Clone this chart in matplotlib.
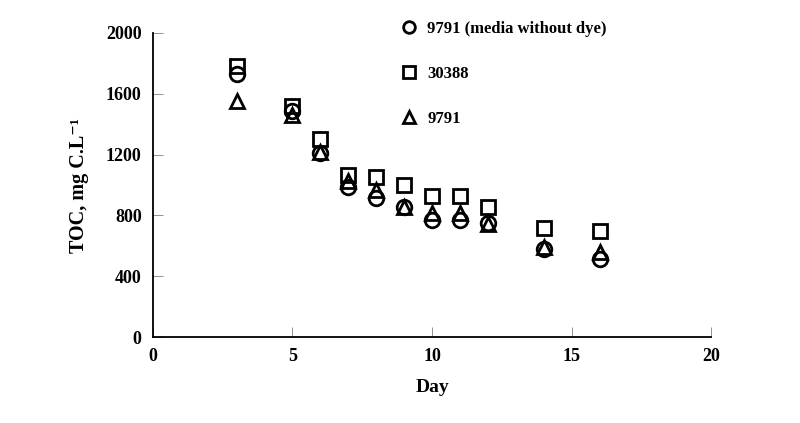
import matplotlib
matplotlib.use("Agg")
import matplotlib.pyplot as plt

plt.rcParams["font.family"] = ["Liberation Serif", "DejaVu Serif"]
plt.rcParams["font.weight"] = "bold"

# datos
dias = [3, 5, 6, 7, 8, 9, 10, 11, 12, 14, 16]
toc_sin_tinte = [1730, 1490, 1210, 985, 915, 858, 772, 772, 752, 578, 515]
toc_30388 = [1785, 1520, 1305, 1065, 1050, 998, 925, 925, 858, 715, 700]
toc_9791 = [1555, 1458, 1218, 1030, 965, 855, 815, 815, 745, 595, 560]

fig = plt.figure(figsize=(8, 4.23), dpi=100)
ax = fig.add_axes([0.191, 0.203, 0.698, 0.719])

estilo = dict(ls="none", mfc="none", mec="black", mew=2.0, ms=10.5)
ax.plot(dias, toc_sin_tinte, marker="o", label="9791 (media without dye)", **estilo)
ax.plot(dias, toc_30388, marker="s", label="30388", **estilo)
ax.plot(dias, toc_9791, marker="^", label="9791", **estilo)

ax.set_xlim(0, 20)
ax.set_ylim(0, 2000)
ax.set_xticks([0, 5, 10, 15, 20])
ax.set_yticks([0, 400, 800, 1200, 1600, 2000])
ax.tick_params(direction="in", length=7, width=0.6, color="gray",
               labelsize=13, pad=8)
for lab in ax.get_xticklabels() + ax.get_yticklabels():
    lab.set_fontweight("bold")
for s in ["top", "right"]:
    ax.spines[s].set_visible(False)
for s in ["left", "bottom"]:
    ax.spines[s].set_linewidth(1.3)

ax.set_xlabel("Day", fontsize=14, fontweight="bold", labelpad=10)
ax.set_ylabel("TOC, mg C.L\u207b\u00b9", fontsize=14.5, fontweight="bold",
              labelpad=12)

fig.legend(loc="upper left", bbox_to_anchor=(0.501, 0.951), frameon=False,
           labelspacing=1.75, handlelength=1.0, handletextpad=0.6,
           markerscale=0.8, borderpad=0, borderaxespad=0,
           prop={"weight": "bold", "size": 12})

fig.savefig("out.png", dpi=100)
